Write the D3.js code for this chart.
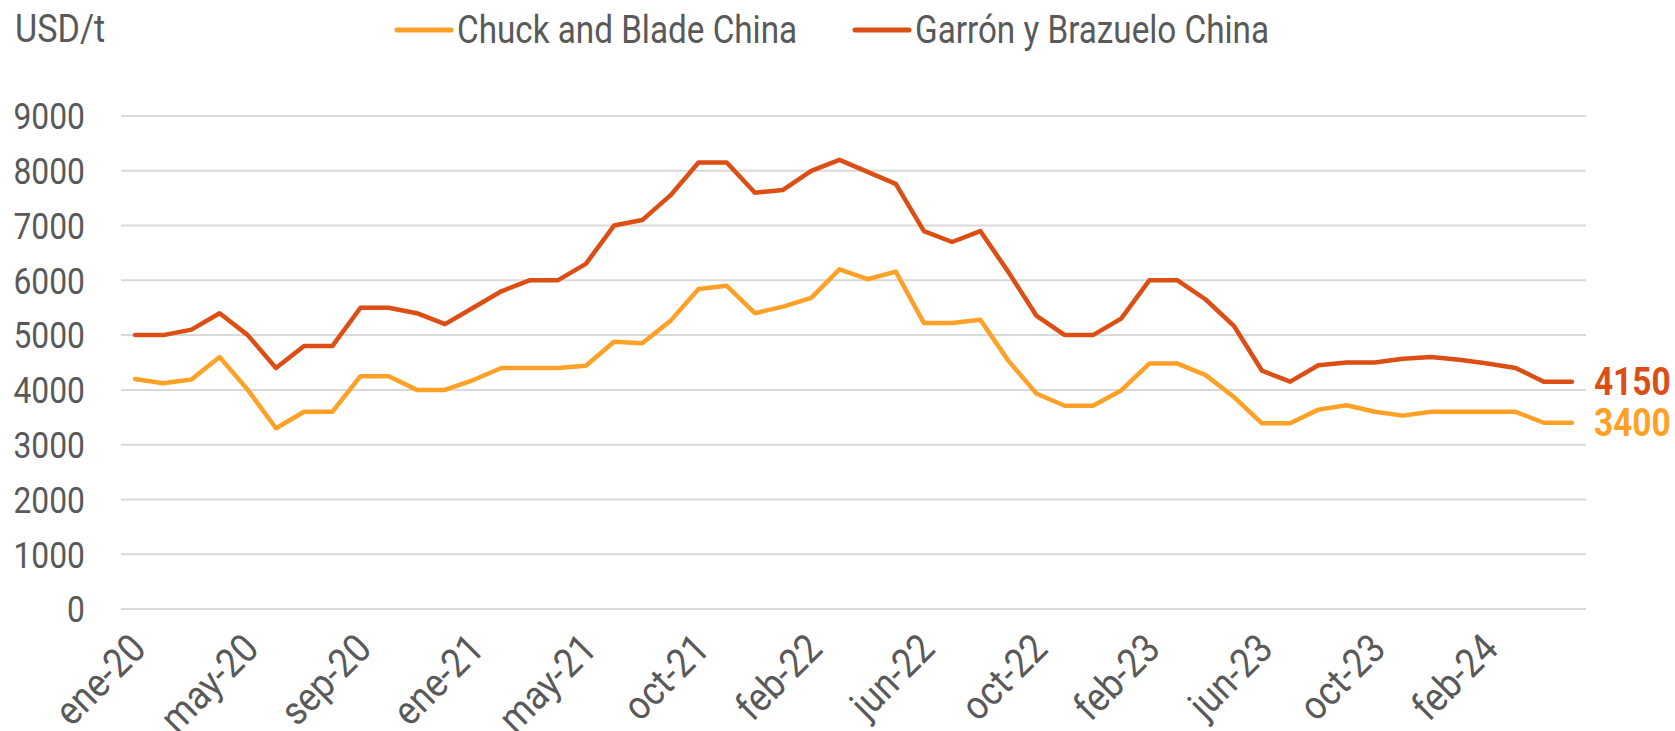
<!DOCTYPE html>
<html>
<head>
<meta charset="utf-8">
<script src="https://cdn.jsdelivr.net/npm/d3@7"></script>
<style>
  html, body { margin: 0; padding: 0; background: #ffffff; }
  svg { display: block; }
  text { font-family: Roboto, "Liberation Sans", sans-serif; fill: #595959; }
</style>
</head>
<body>
<svg id="chart" width="1675" height="731"></svg>
<script>
// Monthly categories (jun-21 has no quote in the series)
const months = [
  "ene-20","feb-20","mar-20","abr-20","may-20","jun-20","jul-20","ago-20","sep-20","oct-20","nov-20","dic-20",
  "ene-21","feb-21","mar-21","abr-21","may-21","jul-21","ago-21","sep-21","oct-21","nov-21","dic-21",
  "ene-22","feb-22","mar-22","abr-22","may-22","jun-22","jul-22","ago-22","sep-22","oct-22","nov-22","dic-22",
  "ene-23","feb-23","mar-23","abr-23","may-23","jun-23","jul-23","ago-23","sep-23","oct-23","nov-23","dic-23",
  "ene-24","feb-24","mar-24","abr-24","may-24"
];

// USD/t
const chuckBlade = [
  4200, 4120, 4190, 4600, 4000, 3300, 3600, 3600, 4250, 4250, 4000, 4000,
  4180, 4400, 4400, 4400, 4440, 4880, 4850, 5260, 5840, 5900, 5400,
  5520, 5680, 6200, 6020, 6160, 5220, 5220, 5280, 4530, 3930, 3710, 3710,
  3990, 4480, 4480, 4270, 3870, 3390, 3390, 3640, 3720, 3600, 3530, 3600,
  3600, 3600, 3600, 3400, 3400
];
const garronBrazuelo = [
  5000, 5000, 5100, 5400, 5000, 4400, 4800, 4800, 5500, 5500, 5400, 5200,
  5500, 5800, 6000, 6000, 6300, 7000, 7100, 7550, 8150, 8150, 7600,
  7650, 8000, 8200, 7980, 7760, 6900, 6700, 6900, 6150, 5350, 5000, 5000,
  5300, 6000, 6000, 5650, 5170, 4350, 4150, 4450, 4500, 4500, 4570, 4600,
  4550, 4480, 4400, 4150, 4150
];

const seriesNames = ["Chuck and Blade China", "Garrón y Brazuelo China"];
const seriesColors = ["#FFA126", "#DC4E14"];
const yTicks = [0, 1000, 2000, 3000, 4000, 5000, 6000, 7000, 8000, 9000];
const xLabelEvery = 4;
const unitLabel = "USD/t";

const svg = d3.select("#chart");
const plot = { left: 121, right: 1586, top: 116, bottom: 609 };

const x = d3.scaleBand().domain(months).range([plot.left, plot.right]);
const xc = d => x(d) + x.bandwidth() / 2;
const y = d3.scaleLinear().domain([0, 9000]).range([plot.bottom, plot.top]);

// horizontal gridlines
svg.append("g")
  .selectAll("line")
  .data(yTicks)
  .join("line")
  .attr("x1", plot.left).attr("x2", plot.right)
  .attr("y1", d => y(d)).attr("y2", d => y(d))
  .attr("stroke", "#D9D9D9").attr("stroke-width", 2);

// y axis labels
svg.append("g")
  .selectAll("g")
  .data(yTicks)
  .join("g")
  .attr("transform", d => `translate(85,${y(d)}) scale(0.86,1)`)
  .append("text")
  .attr("text-anchor", "end")
  .attr("dy", "0.36em")
  .attr("font-size", 37)
  .text(d => d);

// x axis labels, every fourth month
svg.append("g")
  .selectAll("g")
  .data(months.filter((m, i) => i % xLabelEvery === 0))
  .join("g")
  .attr("transform", d => `translate(${xc(d) + 13},${plot.bottom + 42}) rotate(-45) scale(0.9,1)`)
  .append("text")
  .attr("text-anchor", "end")
  .attr("font-size", 40)
  .text(d => d);

// lines
const series = [chuckBlade, garronBrazuelo];
const line = d3.line().x((v, i) => xc(months[i])).y(v => y(v));
svg.append("g")
  .selectAll("path")
  .data(series)
  .join("path")
  .attr("d", d => line(d))
  .attr("fill", "none")
  .attr("stroke", (d, i) => seriesColors[i])
  .attr("stroke-width", 4.5)
  .attr("stroke-linejoin", "round")
  .attr("stroke-linecap", "round");

// end value labels
svg.append("g")
  .selectAll("g")
  .data(series)
  .join("g")
  .attr("transform", d => `translate(${xc(months[months.length - 1]) + 22},${y(d[d.length - 1])}) scale(0.88,1)`)
  .append("text")
  .attr("dy", "0.36em")
  .attr("font-size", 38)
  .attr("font-weight", "bold")
  .style("fill", (d, i) => seriesColors[i])
  .text(d => d[d.length - 1]);

// unit label
svg.append("g")
  .attr("transform", `translate(15,42) scale(0.9,1)`)
  .append("text")
  .attr("font-size", 38)
  .text(unitLabel);

// legend
const legendX = [397, 855];
const lg = svg.append("g")
  .selectAll("g")
  .data(seriesNames)
  .join("g")
  .attr("transform", (d, i) => `translate(${legendX[i]},0)`);
lg.append("line")
  .attr("x1", 0).attr("x2", 54)
  .attr("y1", 30).attr("y2", 30)
  .attr("stroke", (d, i) => seriesColors[i])
  .attr("stroke-width", 5)
  .attr("stroke-linecap", "round");
lg.append("g")
  .attr("transform", `translate(60,43) scale(0.875,1)`)
  .append("text")
  .attr("font-size", 38)
  .text(d => d);
</script>
</body>
</html>
